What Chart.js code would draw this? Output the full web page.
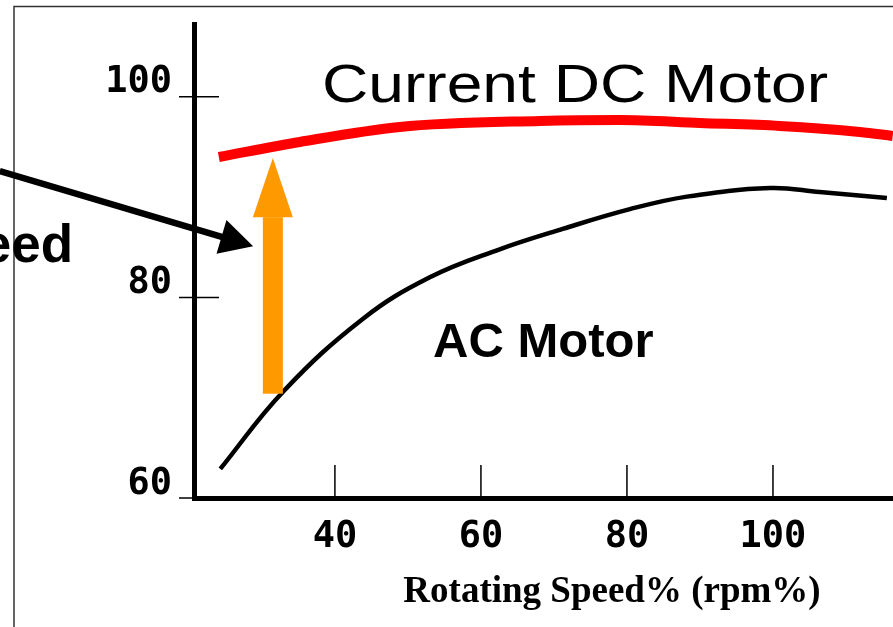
<!DOCTYPE html>
<html>
<head>
<meta charset="utf-8">
<script src="https://cdn.jsdelivr.net/npm/chart.js@4.4.1/dist/chart.umd.min.js"></script>
<style>
  html, body { margin: 0; padding: 0; background: #fff; }
  #chart { display: block; }
</style>
</head>
<body>
<canvas id="chart" width="893" height="627"></canvas>
<script>
// values
const xTickValues = [40, 60, 80, 100];
const yTickValues = [60, 80, 100];

const dcSpeed = [24.1, 35.2, 48.9, 68.1, 79.0, 90.0, 100.9, 111.9, 116.4];
const dcEfficiency = [94.0, 95.5, 97.0, 97.6, 97.7, 97.4, 97.1, 96.5, 96.1];

const acSpeed = [24.3, 32.9, 43.9, 53.0, 62.2, 71.3, 80.4, 88.2, 99.6, 106.4, 115.6];
const acEfficiency = [62.9, 70.6, 77.9, 82.0, 84.7, 86.85, 88.8, 90.05, 90.9, 90.5, 89.9];

// orange "improvement" arrow: x, from, head base, tip
const upArrow = { x: 31.5, from: 70.4, headBase: 88.0, tip: 93.9 };
// black pointer arrow coming in from the left
const pointer = { fromX: -5.9, fromY: 92.6, toX: 28.8, toY: 85.1 };

const labels = {
  dc: 'Current DC Motor',
  ac: 'AC Motor',
  left: 'Speed',
  xTitle: 'Rotating Speed% (rpm%)'
};

const toPoints = (xs, ys) => xs.map((x, i) => ({ x: x, y: ys[i] }));

const tickFont = { family: 'DejaVu Sans Mono', size: 37, weight: 'bold', lineHeight: 1.2 };

const noPad = s => { s.paddingTop = 0; s.paddingBottom = 0; s.paddingLeft = 0; s.paddingRight = 0; };

const decorations = {
  id: 'decorations',
  beforeDraw(chart) {
    const ctx = chart.ctx;
    ctx.save();
    ctx.strokeStyle = '#333';
    ctx.lineWidth = 1.5;
    ctx.beginPath();
    ctx.moveTo(14, 627);
    ctx.lineTo(14, 6.5);
    ctx.lineTo(893, 6.5);
    ctx.stroke();
    ctx.restore();
  },
  afterDraw(chart) {
    const ctx = chart.ctx;
    const xs = chart.scales.x, ys = chart.scales.y;
    const px = v => xs.getPixelForValue(v);
    const py = v => ys.getPixelForValue(v);
    const axisX = chart.chartArea.left, axisY = chart.chartArea.bottom;

    ctx.save();
    // tick marks
    ctx.strokeStyle = '#000';
    ctx.lineWidth = 1.5;
    ctx.beginPath();
    xTickValues.forEach(v => {
      ctx.moveTo(px(v), axisY);
      ctx.lineTo(px(v), axisY - 33);
    });
    yTickValues.forEach(v => {
      const y = v === 60 ? axisY : py(v);
      ctx.moveTo(axisX - 15, y);
      ctx.lineTo(axisX + (v === 60 ? 0 : 25), y);
    });
    ctx.stroke();

    // orange arrow
    const ax = px(upArrow.x);
    ctx.fillStyle = '#ff9900';
    ctx.fillRect(ax - 10, py(upArrow.headBase), 20, py(upArrow.from) - py(upArrow.headBase));
    ctx.beginPath();
    ctx.moveTo(ax - 20, py(upArrow.headBase));
    ctx.lineTo(ax + 20, py(upArrow.headBase));
    ctx.lineTo(ax, py(upArrow.tip));
    ctx.closePath();
    ctx.fill();

    // black pointer arrow
    const x0 = px(pointer.fromX), y0 = py(pointer.fromY);
    const x1 = px(pointer.toX), y1 = py(pointer.toY);
    const ang = Math.atan2(y1 - y0, x1 - x0);
    const headLen = 33, headHalf = 17.5;
    const bx = x1 - headLen * Math.cos(ang), by = y1 - headLen * Math.sin(ang);
    ctx.strokeStyle = '#000';
    ctx.lineWidth = 6.5;
    ctx.beginPath();
    ctx.moveTo(x0, y0);
    ctx.lineTo(bx + 2 * Math.cos(ang), by + 2 * Math.sin(ang));
    ctx.stroke();
    ctx.fillStyle = '#000';
    ctx.beginPath();
    ctx.moveTo(x1, y1);
    ctx.lineTo(bx + headHalf * Math.sin(ang), by - headHalf * Math.cos(ang));
    ctx.lineTo(bx - headHalf * Math.sin(ang), by + headHalf * Math.cos(ang));
    ctx.closePath();
    ctx.fill();

    // texts
    ctx.fillStyle = '#000';
    ctx.textBaseline = 'alphabetic';

    ctx.font = '400 54px "Liberation Sans"';
    const w = ctx.measureText(labels.dc).width;
    ctx.save();
    ctx.translate(322, 101.5);
    ctx.scale(506 / w, 1);
    ctx.textAlign = 'left';
    ctx.fillText(labels.dc, 0, 0);
    ctx.restore();

    ctx.font = 'bold 49px "Liberation Sans"';
    ctx.textAlign = 'left';
    ctx.fillText(labels.ac, 433, 357);

    ctx.font = 'bold 53px "Liberation Sans"';
    ctx.textAlign = 'right';
    ctx.fillText(labels.left, 73, 262);

    // x axis title
    ctx.font = 'bold 37px "Liberation Serif"';
    ctx.textAlign = 'center';
    ctx.fillText(labels.xTitle, 612, 602);
    ctx.restore();
  }
};

new Chart(document.getElementById('chart'), {
  type: 'line',
  data: {
    datasets: [{
      label: 'Current DC Motor',
      data: toPoints(dcSpeed, dcEfficiency),
      borderColor: '#ff0000',
      borderWidth: 10,
      borderCapStyle: 'butt',
      pointRadius: 0,
      cubicInterpolationMode: 'monotone',
      fill: false
    }, {
      label: 'AC Motor',
      data: toPoints(acSpeed, acEfficiency),
      borderColor: '#000000',
      borderWidth: 4.5,
      borderCapStyle: 'butt',
      pointRadius: 0,
      tension: 0.4,
      fill: false
    }]
  },
  options: {
    responsive: false,
    animation: false,
    layout: { padding: { top: 24, left: 0, right: 0, bottom: 0 } },
    plugins: {
      legend: { display: false },
      tooltip: { enabled: false }
    },
    scales: {
      x: {
        type: 'linear',
        min: 20.7,
        max: 116.44,
        afterBuildTicks: s => { s.ticks = xTickValues.map(v => ({ value: v })); },
        afterFit: s => { s.height = 129; noPad(s); },
        border: { display: true, color: '#000', width: 5 },
        grid: { drawOnChartArea: false, drawTicks: false },
        ticks: { color: '#000', font: tickFont, padding: 17, maxRotation: 0, autoSkip: false }
      },
      y: {
        type: 'linear',
        min: 60,
        max: 107.26,
        afterBuildTicks: s => { s.ticks = yTickValues.map(v => ({ value: v })); },
        afterFit: s => { s.width = 194; noPad(s); },
        border: { display: true, color: '#000', width: 5 },
        grid: { drawOnChartArea: false, drawTicks: false },
        ticks: { color: '#000', font: tickFont, padding: 22, labelOffset: -14 }
      }
    }
  },
  plugins: [decorations]
});
</script>
</body>
</html>
